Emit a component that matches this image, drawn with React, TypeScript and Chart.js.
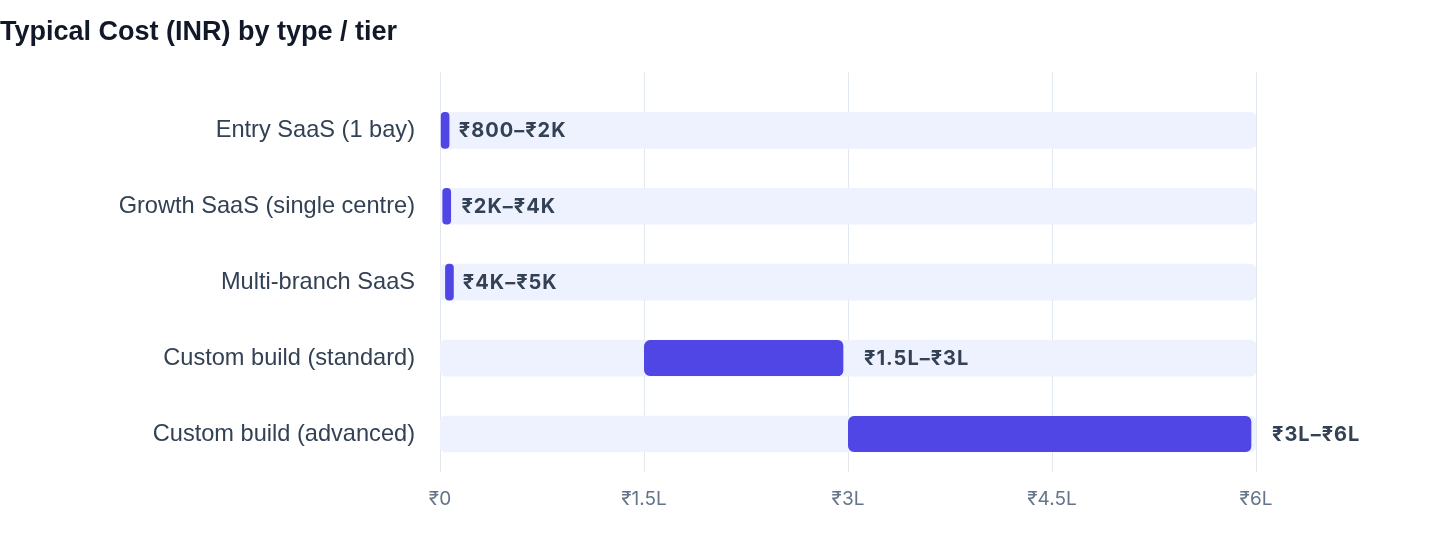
import React, { useEffect, useRef } from "react";
import { Chart, registerables } from "chart.js";

Chart.register(...registerables);

const titleText = "Typical Cost (INR) by type / tier";
const categories = [
  "Entry SaaS (1 bay)",
  "Growth SaaS (single centre)",
  "Multi-branch SaaS",
  "Custom build (standard)",
  "Custom build (advanced)",
];
const rangeStart = [800, 2000, 4000, 150000, 300000];
const rangeEnd = [2000, 4000, 5000, 300000, 600000];
const rangeLabels = ["₹800–₹2K", "₹2K–₹4K", "₹4K–₹5K", "₹1.5L–₹3L", "₹3L–₹6L"];
const trackMax = 600000;
const tickValues = [0, 150000, 300000, 450000, 600000];
const tickLabels = ["₹0", "₹1.5L", "₹3L", "₹4.5L", "₹6L"];

const FONT = '"Liberation Sans", Arial, Helvetica, sans-serif';
const NUM_FONT = 'Inter, "Liberation Sans", Arial, sans-serif';
const BAR = "#4F46E5";
const TRACK = "#EEF2FF";
const GRID = "#E2E8F0";

const rangeLabelPlugin = {
  id: "rangeLabelPlugin",
  afterLayout(chart: any) {
    const xs = chart.scales.x;
    if (xs && !xs.__lsWrapped) {
      const orig = xs.draw.bind(xs);
      xs.draw = (area: any) => {
        const c = chart.ctx;
        const prev = c.letterSpacing;
        c.letterSpacing = "1.5px";
        orig(area);
        c.letterSpacing = prev || "0px";
      };
      xs.__lsWrapped = true;
    }
  },
  afterDatasetsDraw(chart: any) {
    const ctx = chart.ctx;
    const meta = chart.getDatasetMeta(0);
    const xs = chart.scales.x;
    ctx.save();
    ctx.font = `bold 20px ${NUM_FONT}`;
    ctx.letterSpacing = "1px";
    ctx.fillStyle = "#334155";
    ctx.textAlign = "left";
    ctx.textBaseline = "middle";
    meta.data.forEach((bar: any, i: number) => {
      ctx.fillText(rangeLabels[i], xs.getPixelForValue(rangeEnd[i]) + 16, bar.y + 1);
    });
    ctx.restore();
  },
};

function barWidthPx(ctx: any): number {
  const xs = ctx.chart.scales?.x;
  const i = ctx.dataIndex;
  if (!xs || i === undefined) return 100;
  return Math.abs(xs.getPixelForValue(rangeEnd[i]) - xs.getPixelForValue(rangeStart[i]));
}

export default function App() {
  const canvasRef = useRef<HTMLCanvasElement | null>(null);

  useEffect(() => {
    document.body.style.margin = "0";
    const canvas = canvasRef.current;
    if (!canvas) return;
    const chart = new Chart(canvas, {
      type: "bar",
      data: {
        labels: categories,
        datasets: [
          {
            label: "Range",
            data: categories.map((_, i) => [rangeStart[i], rangeEnd[i]]),
            backgroundColor: BAR,
            borderColor: "rgba(0,0,0,0)",
            borderSkipped: false,
            borderWidth: (ctx: any) =>
              barWidthPx(ctx) < 20 ? 0 : { top: 0, right: 5, bottom: 0, left: 0 },
            borderRadius: (ctx: any) =>
              barWidthPx(ctx) < 20
                ? 4
                : { topLeft: 6, bottomLeft: 6, topRight: 11, bottomRight: 11 },
            minBarLength: 8,
            barThickness: 36,
            grouped: false,
            order: 1,
          } as any,
          {
            label: "Track",
            data: categories.map(() => [0, trackMax]),
            backgroundColor: TRACK,
            borderSkipped: false,
            borderWidth: 0,
            borderRadius: 6,
            barThickness: 36,
            grouped: false,
            order: 2,
          } as any,
        ],
      },
      options: {
        indexAxis: "y",
        animation: false,
        responsive: true,
        maintainAspectRatio: false,
        layout: { padding: { left: 0, right: 184, top: 0, bottom: 0 } },
        plugins: {
          legend: { display: false },
          tooltip: { enabled: false },
          title: {
            display: true,
            text: titleText,
            align: "start",
            color: "#111827",
            font: { family: FONT, size: 27, weight: "bold", lineHeight: 1.2 },
            padding: { top: 16, bottom: 24 },
          },
        },
        scales: {
          x: {
            type: "linear",
            position: "bottom",
            min: 0,
            max: trackMax,
            afterFit: (s: any) => {
              s.height = 88;
            },
            afterBuildTicks: (s: any) => {
              s.ticks = tickValues.map((v) => ({ value: v }));
            },
            ticks: {
              color: "#64748B",
              font: { family: NUM_FONT, size: 19 },
              padding: 16,
              callback: (v: any) => {
                const k = tickValues.indexOf(Number(v));
                return k >= 0 ? tickLabels[k] : "";
              },
            },
            grid: { display: false, drawTicks: false },
            border: { display: false },
          },
          x2: {
            type: "linear",
            position: "top",
            min: 0,
            max: trackMax,
            afterFit: (s: any) => {
              s.height = 20;
            },
            afterBuildTicks: (s: any) => {
              s.ticks = tickValues.map((v) => ({ value: v }));
            },
            ticks: { display: false },
            grid: { color: GRID, lineWidth: 1, drawTicks: true, tickLength: 20 },
            border: { display: false },
          },
          y: {
            type: "category",
            position: "left",
            offset: true,
            afterFit: (s: any) => {
              s.width = 440;
            },
            ticks: {
              color: "#334155",
              font: { family: FONT, size: 23.6 },
              padding: 25,
            },
            grid: { display: false, drawTicks: false },
            border: { display: false },
          },
        },
      },
      plugins: [rangeLabelPlugin],
    } as any);
    return () => chart.destroy();
  }, []);

  return (
    <div style={{ width: 1440, height: 560, position: "relative", background: "#ffffff" }}>
      <canvas ref={canvasRef} />
    </div>
  );
}
